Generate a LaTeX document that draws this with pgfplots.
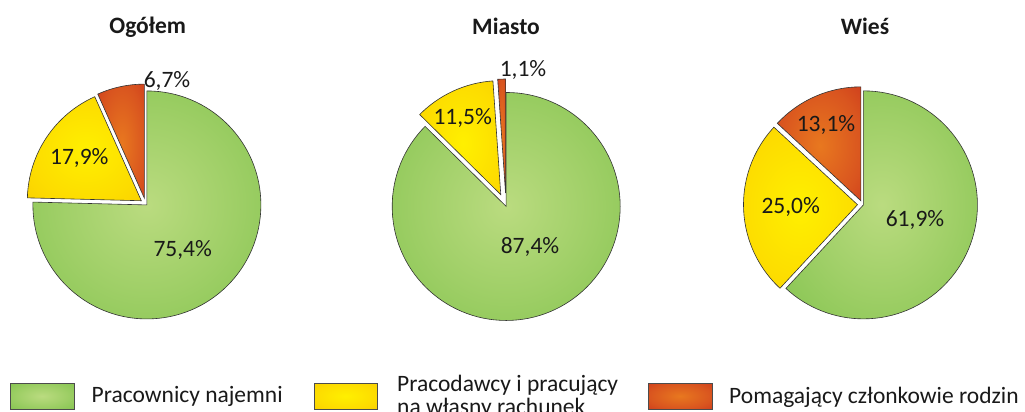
\documentclass[border=0pt]{standalone}
\usepackage{pgfplots}
\pgfplotsset{compat=1.18}
\usepackage{fontspec}
\setmainfont{Carlito}
\definecolor{txt}{RGB}{25,25,25}
\pgfdeclareradialshading{gsh}{\pgfpoint{0bp}{0bp}}{rgb(0bp)=(0.73,0.86,0.50); rgb(20bp)=(0.62,0.81,0.40); rgb(45bp)=(0.47,0.75,0.27); rgb(50bp)=(0.46,0.74,0.26)}
\pgfdeclareradialshading{ysh}{\pgfpoint{0bp}{0bp}}{rgb(0bp)=(1.00,0.94,0.00); rgb(25bp)=(0.99,0.86,0.00); rgb(45bp)=(0.97,0.78,0.00); rgb(50bp)=(0.97,0.77,0.00)}
\pgfdeclareradialshading{rsh}{\pgfpoint{0bp}{0bp}}{rgb(0bp)=(0.91,0.47,0.12); rgb(25bp)=(0.85,0.33,0.12); rgb(45bp)=(0.78,0.18,0.11); rgb(50bp)=(0.77,0.16,0.11)}
\newcommand\R{114pt}
% #1 cx, #2 cy, #3 start (percent), #4 value (percent), #5 explode (px), #6 shading
\newcommand\slice[6]{%
  \shade[shading=#6, draw=black!80, line width=0.6pt, line join=miter]
    (axis cs:#1,#2) ++({90-3.6*(#3+#4/2)}:#5pt) -- ++({90-3.6*(#3)}:\R)
    arc[start angle={90-3.6*(#3)}, end angle={90-3.6*(#3+#4)}, radius=\R] -- cycle;}
% #1 cx, #2 cy, #3 green, #4 yellow, #5 red, #6-#8 explode
\newcommand\pie[8]{%
  \slice{#1}{#2}{0}{#3}{#6}{gsh}
  \slice{#1}{#2}{#3}{#4}{#7}{ysh}
  \slice{#1}{#2}{#3+#4}{#5}{#8}{rsh}}
\begin{document}
\begin{tikzpicture}
\useasboundingbox (0,0) rectangle (1025pt,412pt);
\clip (0,0) rectangle (1025pt,412pt);
\begin{axis}[at={(0,0)}, anchor=south west, x=1pt, y=1pt,
  xmin=0, xmax=1025, ymin=0, ymax=412, y dir=reverse,
  hide axis, clip=false]
% Ogolem
\pie{145.5}{203.5}{75.4}{17.9}{6.7}{2}{5}{5.5}
% Miasto
\pie{506}{206}{87.4}{11.5}{1.1}{0.5}{12.5}{13}
% Wies
\pie{862.5}{204.5}{61.9}{25.0}{13.1}{1}{5}{4}
\begin{scope}[every node/.style={font=\fontsize{23.5}{27}\selectfont, text=txt, inner sep=0pt}]
\node[anchor=base] at (axis cs:147.7,34) {\bfseries Ogółem};
\node[anchor=base] at (axis cs:506,35) {\bfseries Miasto};
\node[anchor=base] at (axis cs:865,35) {\bfseries Wieś};
\node[anchor=base] at (axis cs:182.7,256.7) {75,4\%};
\node[anchor=base] at (axis cs:79.3,164) {17,9\%};
\node[anchor=base] at (axis cs:167,87) {6,7\%};
\node[anchor=base] at (axis cs:530,253.3) {87,4\%};
\node[anchor=base] at (axis cs:462.7,124) {11,5\%};
\node[anchor=base] at (axis cs:523,76.7) {1,1\%};
\node[anchor=base] at (axis cs:915,226.7) {61,9\%};
\node[anchor=base] at (axis cs:790.7,213.3) {25,0\%};
\node[anchor=base] at (axis cs:826,131) {13,1\%};
% legend
\shade[shading=gsh, draw=black!70, line width=0.6pt] (axis cs:10,383) rectangle (axis cs:74,409);
\shade[shading=ysh, draw=black!70, line width=0.6pt] (axis cs:314,383) rectangle (axis cs:377,409);
\shade[shading=rsh, draw=black!70, line width=0.6pt] (axis cs:648,383) rectangle (axis cs:712,409);
\node[anchor=base west] at (axis cs:91.5,402) {Pracownicy najemni};
\node[anchor=base west] at (axis cs:397,391) {Pracodawcy i pracujący};
\node[anchor=base west] at (axis cs:397,414) {na własny rachunek};
\node[anchor=base west] at (axis cs:729,403) {Pomagający członkowie rodzin};
\end{scope}
\end{axis}
\end{tikzpicture}
\end{document}
